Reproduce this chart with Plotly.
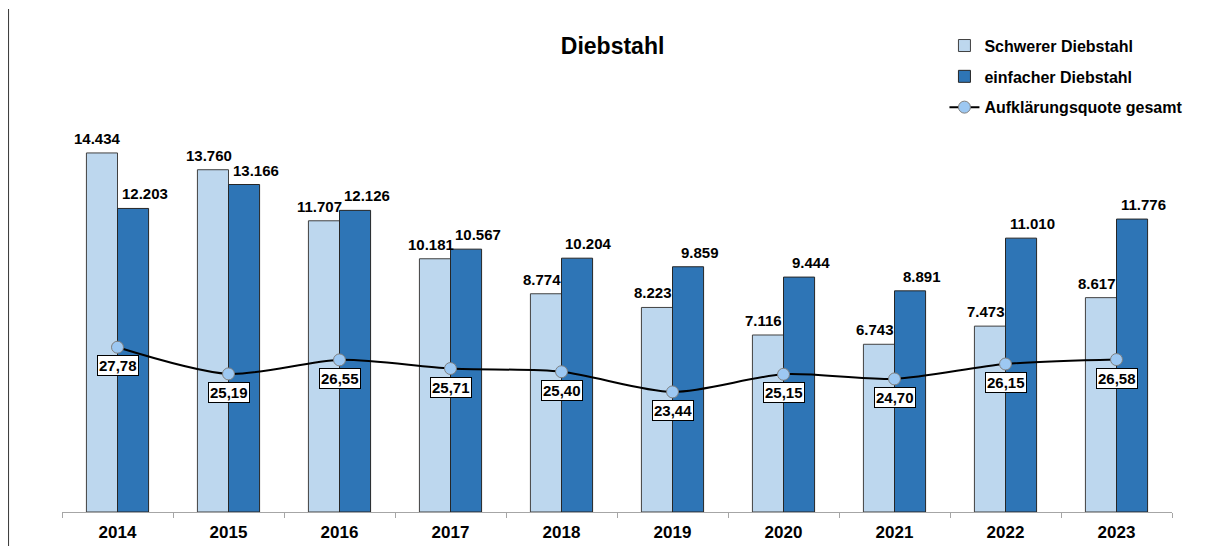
import plotly.graph_objects as go

years = ["2014", "2015", "2016", "2017", "2018", "2019", "2020", "2021", "2022", "2023"]
schwerer = [14434, 13760, 11707, 10181, 8774, 8223, 7116, 6743, 7473, 8617]
einfacher = [12203, 13166, 12126, 10567, 10204, 9859, 9444, 8891, 11010, 11776]
quote = [27.78, 25.19, 26.55, 25.71, 25.40, 23.44, 25.15, 24.70, 26.15, 26.58]

def de_int(v):
    return f"{v:,}".replace(",", ".")

def de_dec(v):
    return f"{v:.2f}".replace(".", ",")

FONT = "Liberation Sans, Arial, sans-serif"

fig = go.Figure()
fig.add_trace(go.Bar(
    x=years, y=schwerer, name="Schwerer Diebstahl",
    marker=dict(color="#BDD7EE", line=dict(color="#404040", width=1)),
    legendgroup="a",
))
fig.add_trace(go.Bar(
    x=years, y=einfacher, name="einfacher Diebstahl",
    marker=dict(color="#2E75B6", line=dict(color="#262626", width=1)),
    legendgroup="b",
))
fig.add_trace(go.Scatter(
    x=years, y=quote, name="Aufklärungsquote gesamt", yaxis="y2",
    mode="lines+markers",
    line=dict(color="black", width=2, shape="spline", smoothing=0.8),
    marker=dict(size=12, color="#9DC8F2", line=dict(color="#7F7F7F", width=1)),
    legendgroup="c",
))

annotations = []
for i, (s, e) in enumerate(zip(schwerer, einfacher)):
    annotations.append(dict(x=i, y=s, xref="x", yref="y", text=de_int(s),
                            showarrow=False, yanchor="bottom", xshift=-20, yshift=4,
                            font=dict(family=FONT, size=15, color="black", weight="bold")))
    annotations.append(dict(x=i, y=e, xref="x", yref="y", text=de_int(e),
                            showarrow=False, yanchor="bottom", xshift=27, yshift=4,
                            font=dict(family=FONT, size=15, color="black", weight="bold")))
for i, q in enumerate(quote):
    annotations.append(dict(x=i, y=q, xref="x", yref="y2", text=de_dec(q),
                            showarrow=False, yanchor="top", yshift=-8,
                            bgcolor="white", bordercolor="black", borderwidth=1, borderpad=1,
                            font=dict(family=FONT, size=15, color="black", weight="bold")))

fig.update_layout(
    width=1214, height=546,
    margin=dict(l=54, r=50, t=106, b=36),
    paper_bgcolor="white", plot_bgcolor="white",
    barmode="group", bargap=0.44, bargroupgap=0,
    font=dict(family=FONT, color="black"),
    title=dict(text="<b>Diebstahl</b>", x=0.498, xanchor="center", y=0.9305, yanchor="middle",
               font=dict(family=FONT, size=23, color="black")),
    xaxis=dict(type="category", range=[-0.5, len(years) - 0.5], autorange=False,
               showline=True, linecolor="#A6A6A6", linewidth=1,
               ticks="outside", tickson="boundaries", ticklen=5, tickcolor="#A6A6A6",
               tickangle=0, showgrid=False, ticklabelstandoff=5,
               tickfont=dict(family=FONT, size=17, color="black", weight="bold")),
    yaxis=dict(range=[0, 16000], autorange=False, visible=False, showgrid=False),
    yaxis2=dict(range=[11.77, 50.44], autorange=False, overlaying="y", side="right",
                visible=False, showgrid=False),
    showlegend=True,
    legend=dict(x=0.795, xanchor="left", y=1.2145, yanchor="top", traceorder="grouped",
                tracegroupgap=7, bgcolor="rgba(0,0,0,0)",
                font=dict(family=FONT, size=16, color="black", weight="bold")),
    annotations=annotations,
    shapes=[dict(type="line", xref="paper", yref="paper", x0=-0.0486, x1=-0.0486,
                 y0=1.264, y1=-0.1, line=dict(color="#404040", width=2))],
)

fig.write_html("out.html")
